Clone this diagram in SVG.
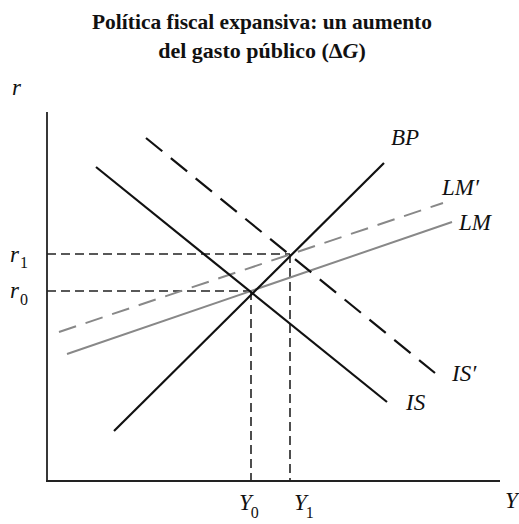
<svg xmlns="http://www.w3.org/2000/svg" width="519" height="524" viewBox="0 0 519 524">
<style>
.title{font-family:"Liberation Serif","Times New Roman",serif;font-weight:bold;font-size:22px;fill:#111;text-anchor:middle}
.lab{font-family:"Liberation Serif","Times New Roman",serif;font-style:italic;font-size:23px;fill:#111}
.sub{font-family:"Liberation Serif","Times New Roman",serif;font-size:16px;fill:#111}
.axis{stroke:#222;stroke-width:1.8;fill:none}
.blk{stroke:#111;stroke-width:2.2;fill:none}
.blkd{stroke:#111;stroke-width:2.2;fill:none;stroke-dasharray:21 11}
.gry{stroke:#888;stroke-width:2;fill:none}
.gryd{stroke:#888;stroke-width:2;fill:none;stroke-dasharray:18 10}
.guide{stroke:#222;stroke-width:1.6;fill:none;stroke-dasharray:9 5}
</style>
<rect width="519" height="524" fill="#fff"/>
<g id="title">
<text class="title" x="262" y="29" textLength="340" lengthAdjust="spacingAndGlyphs">Política fiscal expansiva: un aumento</text>
<text class="title" x="262" y="58">del gasto público (Δ<tspan font-style="italic">G</tspan>)</text>
</g>
<g id="axes">
<line class="axis" x1="47" y1="112" x2="47" y2="481"/>
<line class="axis" x1="46" y1="481" x2="500" y2="481"/>
<text class="lab" x="12" y="95">r</text>
<text class="lab" x="505" y="508">Y</text>
</g>
<g id="connectors">
<line id="guide-r1" class="guide" x1="47" y1="254" x2="290" y2="254"/>
<line id="guide-r0" class="guide" x1="47" y1="291" x2="251" y2="291"/>
<line id="guide-Y0" class="guide" x1="251" y1="291" x2="251" y2="481"/>
<line id="guide-Y1" class="guide" x1="290" y1="254" x2="290" y2="481"/>
<line id="LMp" class="gryd" x1="59" y1="332" x2="443" y2="203"/>
<line id="LM" class="gry" x1="67" y1="354" x2="452" y2="222"/>
<line id="ISp" class="blkd" x1="146" y1="138" x2="435" y2="373"/>
<line id="IS" class="blk" x1="96" y1="167" x2="387" y2="402"/>
<line id="BP" class="blk" x1="114" y1="431" x2="384" y2="163"/>
</g>
<g id="labels">
<text class="lab" x="391" y="145">BP</text>
<text class="lab" x="442" y="195">LM′</text>
<text class="lab" x="459" y="230">LM</text>
<text class="lab" x="452" y="381">IS′</text>
<text class="lab" x="406" y="410">IS</text>
<text class="lab" x="10" y="262">r<tspan class="sub" font-style="normal" dx="1" dy="6">1</tspan></text>
<text class="lab" x="10" y="298">r<tspan class="sub" font-style="normal" dx="1" dy="7">0</tspan></text>
<text class="lab" x="239" y="510">Y<tspan class="sub" font-style="normal" dx="-1" dy="8">0</tspan></text>
<text class="lab" x="294" y="510">Y<tspan class="sub" font-style="normal" dx="-1" dy="8">1</tspan></text>
</g>
</svg>
